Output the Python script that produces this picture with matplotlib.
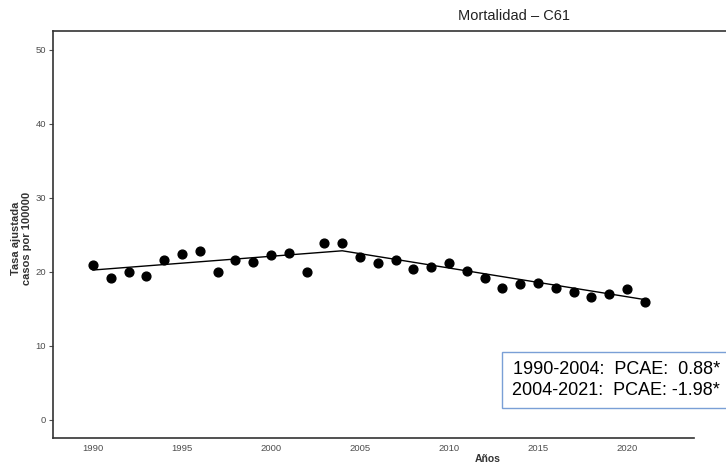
import matplotlib
matplotlib.use('Agg')
import matplotlib.pyplot as plt
from matplotlib.patches import Rectangle

plt.rcParams['font.family'] = ['Liberation Sans', 'DejaVu Sans']

years = list(range(1990, 2022))
rates = [20.9, 19.1, 20.0, 19.4, 21.5, 22.3, 22.8, 20.0, 21.6, 21.3,
         22.2, 22.5, 19.9, 23.9, 23.9, 21.9, 21.2, 21.5, 20.3, 20.6,
         21.2, 20.1, 19.1, 17.8, 18.3, 18.4, 17.8, 17.2, 16.6, 17.0,
         17.7, 15.9]

# joinpoint fit (segment ends)
fit_years = [1990, 2004, 2021]
fit_vals = [20.2, 22.8, 16.2]

apc_lines = ['1990-2004:  PCAE:  0.88*', '2004-2021:  PCAE: -1.98*']

W, H = 726, 465
fig = plt.figure(figsize=(W / 100, H / 100), dpi=100)
ax = fig.add_axes([53 / W, (H - 438) / H, (W - 53) / W, (438 - 31) / H])

ax.plot(fit_years, fit_vals, color='black', linewidth=1.0)
ax.scatter(years, rates, s=40, color='black', zorder=3)

x0 = 1987.75
ax.set_xlim(x0, x0 + (W - 53) / 17.8)
ax.set_ylim(-2.5, 52.5)
ax.set_xticks([1990, 1995, 2000, 2005, 2010, 2015, 2020])
ax.set_yticks([0, 10, 20, 30, 40, 50])

ax.spines['right'].set_visible(False)
ax.spines['bottom'].set_bounds(x0, 2023.75)
for s in ['left', 'bottom', 'top']:
    ax.spines[s].set_color('#333333')
    ax.spines[s].set_linewidth(1.2)

ax.tick_params(axis='both', labelsize=6.8, colors='#4d4d4d', length=3, width=0.8)
ax.tick_params(axis='y', pad=2)
ax.tick_params(axis='x', length=0, pad=4)

ax.set_ylabel('Tasa ajustada\ncasos por 100000', fontsize=8,
              fontweight='bold', color='#333333', linespacing=1.15)
ax.yaxis.set_label_coords(-0.031, 0.49)
ax.set_xlabel('Años', fontsize=7.5, fontweight='bold', color='#333333')
ax.xaxis.set_label_coords((488 - 53) / (W - 53), -0.04)

fig.text(514 / W, 1 - 16 / H, 'Mortalidad – C61', fontsize=10.5,
         ha='center', va='center', color='#222222')

# annotation box
fig.patches.append(Rectangle((502 / W, (H - 408) / H), (W - 502) / W + 0.01,
                             (408 - 352) / H, transform=fig.transFigure,
                             facecolor='white', edgecolor='#7a9fd6',
                             linewidth=1.0, zorder=5))
for i, line in enumerate(apc_lines):
    fig.text(720 / W, 1 - (370 + 20 * i) / H, line, fontsize=13,
             ha='right', va='center', color='black', zorder=6)

fig.savefig('out.png', dpi=100)
